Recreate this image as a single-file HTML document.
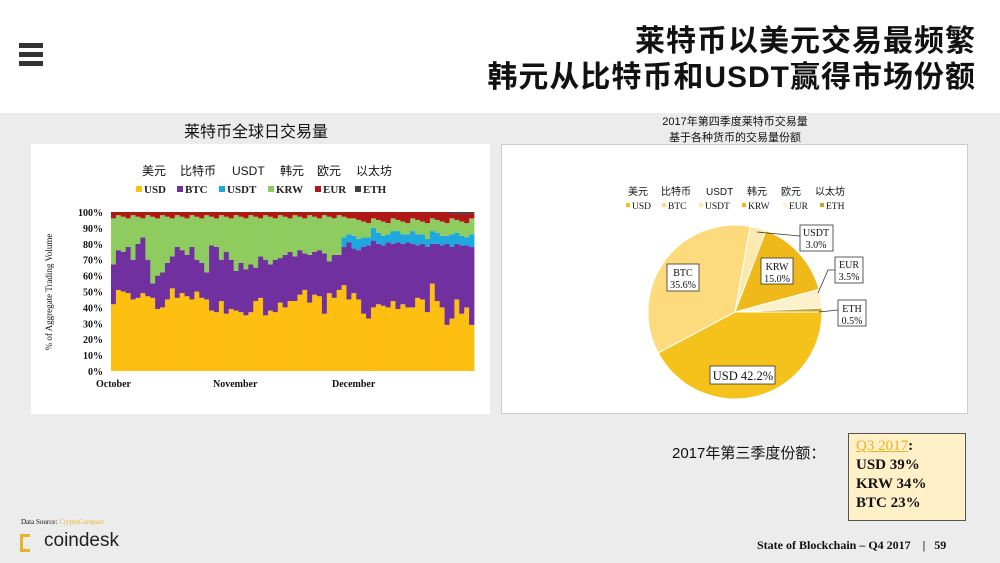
<!DOCTYPE html>
<html><head><meta charset="utf-8">
<style>
body{margin:0;width:1000px;height:563px;overflow:hidden;background:#ececec;position:relative;font-family:"Liberation Sans","Noto Sans CJK SC",sans-serif;}
.abs{position:absolute;}
.top{left:0;top:0;width:1000px;height:113px;background:#fff;}
.title{right:24px;top:24px;text-align:right;font-size:30px;font-weight:bold;line-height:36px;color:#111;letter-spacing:1px;}
.ham{left:19px;width:24px;height:5px;background:#333;}
.panel{background:#fff;}
.serif{font-family:"Liberation Serif","Noto Serif CJK SC",serif;}
</style></head><body>
<div class="abs top"></div>
<div class="abs ham" style="top:43px"></div>
<div class="abs ham" style="top:52px"></div>
<div class="abs ham" style="top:61px"></div>
<div class="abs title">莱特币以美元交易最频繁<br>韩元从比特币和USDT赢得市场份额</div>

<div class="abs" style="left:184px;top:118px;font-size:16px;color:#111;">莱特币全球日交易量</div>
<div class="abs" style="left:640px;top:114px;font-size:11px;color:#111;text-align:center;width:190px;line-height:16px;">2017年第四季度莱特币交易量<br>基于各种货币的交易量份额</div>

<div class="abs panel" style="left:31px;top:144px;width:459px;height:270px;"></div>
<div class="abs panel" style="left:501px;top:144px;width:467px;height:270px;border:1px solid #ccc;box-sizing:border-box;"></div>

<svg class="abs" style="left:0;top:0" width="1000" height="563" id="svg">
<g font-family="Liberation Sans,Noto Sans CJK SC,sans-serif" font-size="12" fill="#111">
<text x="142" y="175">美元</text><text x="180" y="175">比特币</text><text x="232" y="175">USDT</text><text x="280" y="175">韩元</text><text x="317" y="175">欧元</text><text x="356" y="175">以太坊</text>
</g>
<g font-family="Liberation Serif,serif" font-size="11" font-weight="bold" fill="#222">
<rect x="136" y="186" width="6" height="6" fill="#fdbf10"/><text x="144" y="193">USD</text>
<rect x="177" y="186" width="6" height="6" fill="#7030a0"/><text x="185" y="193">BTC</text>
<rect x="219" y="186" width="6" height="6" fill="#1fa8e0"/><text x="227" y="193">USDT</text>
<rect x="268" y="186" width="6" height="6" fill="#8fcc5f"/><text x="276" y="193">KRW</text>
<rect x="315" y="186" width="6" height="6" fill="#b01818"/><text x="323" y="193">EUR</text>
<rect x="355" y="186" width="6" height="6" fill="#404048"/><text x="363" y="193">ETH</text>
</g>
<g id="bars"></g>
<g font-family="Liberation Serif,serif" font-size="10" font-weight="bold" fill="#111" text-anchor="end" id="yt"></g>
<text transform="translate(52,292) rotate(-90)" font-family="Liberation Serif,serif" font-size="9" text-anchor="middle" fill="#111">% of Aggregate Trading Volume</text>
<g font-family="Liberation Serif,serif" font-size="10" font-weight="bold" fill="#111">
<text x="96" y="387">October</text><text x="213" y="387">November</text><text x="332" y="387">December</text>
</g>

<g font-family="Liberation Sans,Noto Sans CJK SC,sans-serif" font-size="10" fill="#111">
<text x="628" y="195">美元</text><text x="661" y="195">比特币</text><text x="706" y="195">USDT</text><text x="747" y="195">韩元</text><text x="781" y="195">欧元</text><text x="815" y="195">以太坊</text>
</g>
<g font-family="Liberation Serif,serif" font-size="9.5" fill="#111">
<rect x="626" y="203" width="4" height="4" fill="#f5c21b"/><text x="632" y="209">USD</text>
<rect x="662" y="203" width="4" height="4" fill="#fddb7d"/><text x="668" y="209">BTC</text>
<rect x="699" y="203" width="4" height="4" fill="#fde9b0"/><text x="705" y="209">USDT</text>
<rect x="742" y="203" width="4" height="4" fill="#f0b91a"/><text x="748" y="209">KRW</text>
<rect x="783" y="203" width="4" height="4" fill="#fdf1c9"/><text x="789" y="209">EUR</text>
<rect x="820" y="203" width="4" height="4" fill="#c9a227"/><text x="826" y="209">ETH</text>
</g>
<g id="pie"></g>
<g stroke="#333" stroke-width="0.8" fill="none">
<line x1="757" y1="232" x2="800" y2="236"/>
<polyline points="818,293 828,270 835,270"/>
<line x1="819" y1="312" x2="838" y2="310"/>
</g>
<g font-family="Liberation Serif,serif" font-size="10" fill="#111" text-anchor="middle">
<rect x="800" y="225" width="33" height="26" fill="#fff" stroke="#333" stroke-width="0.8"/><text x="816" y="236">USDT</text><text x="816" y="248">3.0%</text>
<rect x="761" y="258" width="32" height="26" fill="#fff" stroke="#333" stroke-width="0.8"/><text x="777" y="270">KRW</text><text x="777" y="282">15.0%</text>
<rect x="835" y="257" width="28" height="26" fill="#fff" stroke="#333" stroke-width="0.8"/><text x="849" y="268">EUR</text><text x="849" y="280">3.5%</text>
<rect x="838" y="300" width="28" height="26" fill="#fff" stroke="#333" stroke-width="0.8"/><text x="852" y="312">ETH</text><text x="852" y="324">0.5%</text>
<rect x="667" y="264" width="32" height="27" fill="#fff" stroke="#333" stroke-width="0.8"/><text x="683" y="276">BTC</text><text x="683" y="288">35.6%</text>
<rect x="710" y="366" width="65" height="18" fill="#fff" stroke="#333" stroke-width="0.8"/><text x="743" y="380" font-size="12.5">USD 42.2%</text>
</g>
</svg>

<div class="abs" style="left:672px;top:442px;font-size:15px;color:#111;">2017年第三季度份额：</div>
<div class="abs serif" style="left:848px;top:433px;width:118px;height:88px;background:#fff0c8;border:1px solid #555;box-sizing:border-box;padding:3px 0 0 7px;font-size:15px;font-weight:bold;line-height:19px;color:#111;"><span style="color:#e6b422;text-decoration:underline;font-weight:normal">Q3 2017</span>:<br>USD 39%<br>KRW 34%<br>BTC 23%</div>

<div class="abs serif" style="left:21px;top:518px;font-size:7px;color:#111;">Data Source: <span style="color:#e8b830">CryptoCompare</span></div>
<div class="abs" style="left:20px;top:534px;width:10px;height:18px;border:3px solid #e6b422;border-right:none;box-sizing:border-box;"></div>
<div class="abs" style="left:44px;top:530px;font-size:19px;color:#222;">coindesk</div>
<div class="abs serif" style="left:757px;top:538px;font-size:12px;font-weight:bold;color:#111;">State of Blockchain – Q4 2017 &nbsp;&nbsp; | &nbsp;&nbsp;59</div>

<script>
var ns="http://www.w3.org/2000/svg";
function el(t,a,p){var e=document.createElementNS(ns,t);for(var k in a)e.setAttribute(k,a[k]);p.appendChild(e);return e;}
var usd=[42,51,50,49,45,46,49,47,46,39,40,45,52,46,49,47,45,50,46,45,38,37,44,36,39,38,37,35,37,44,46,35,38,37,43,40,44,44,48,51,43,48,47,36,49,46,51,54,45,49,45,36,33,40,42,41,40,44,39,42,40,40,46,45,37,55,44,40,29,33,45,36,40,29];
var btc=[67,76,75,78,70,80,84,70,55,60,62,68,72,78,76,73,78,70,68,62,79,78,70,75,70,63,68,64,67,65,72,70,67,70,71,73,75,72,76,74,73,75,76,74,69,73,73,78,81,77,76,78,79,82,80,79,81,80,81,80,81,80,79,80,78,80,80,79,80,78,80,79,79,78];
var g=document.getElementById('bars');var n=usd.length,x0=111,x1=474,y0=371,h=159,w=(x1-x0)/n;
function Y(v){return y0-v/100*h;}
for(var i=0;i<n;i++){var x=x0+i*w;
 var usdt=i>=47?btc[i]+(5+((i*7)%4)):btc[i];
 var krw=96+((i*5)%3);if(i>48)krw=93+((i*3)%4);
 var eth=i>68?99:100;
 var segs=[[0,usd[i],'#fdbf10'],[usd[i],btc[i],'#7030a0'],[btc[i],usdt,'#1fa8e0'],[usdt,krw,'#8fcc5f'],[krw,eth,'#b01818'],[eth,100,'#404048']];
 segs.forEach(function(s){if(s[1]>s[0])el('rect',{x:x,y:Y(s[1]),width:w+0.4,height:Y(s[0])-Y(s[1]),fill:s[2]},g);});
}
var yt=document.getElementById('yt');
for(var v=0;v<=100;v+=10){var t=el('text',{x:103,y:Y(v)+4},yt);t.textContent=v+'%';}
var p=document.getElementById('pie');var cx=735,cy=312,r=87,a=0;
[[42.2,'#f5c21b'],[35.6,'#fddb7d'],[3.0,'#fde9b0'],[15.0,'#f0b91a'],[3.5,'#fdf1c9'],[0.7,'#c9a227']].forEach(function(s){
 var a2=a+s[0]/100*2*Math.PI;
 var d='M'+cx+','+cy+' L'+(cx+r*Math.cos(a))+','+(cy+r*Math.sin(a))+' A'+r+','+r+' 0 '+(a2-a>Math.PI?1:0)+',1 '+(cx+r*Math.cos(a2))+','+(cy+r*Math.sin(a2))+'Z';
 el('path',{d:d,fill:s[1],stroke:'#fff','stroke-width':1},p);a=a2;});
</script>
</body></html>
